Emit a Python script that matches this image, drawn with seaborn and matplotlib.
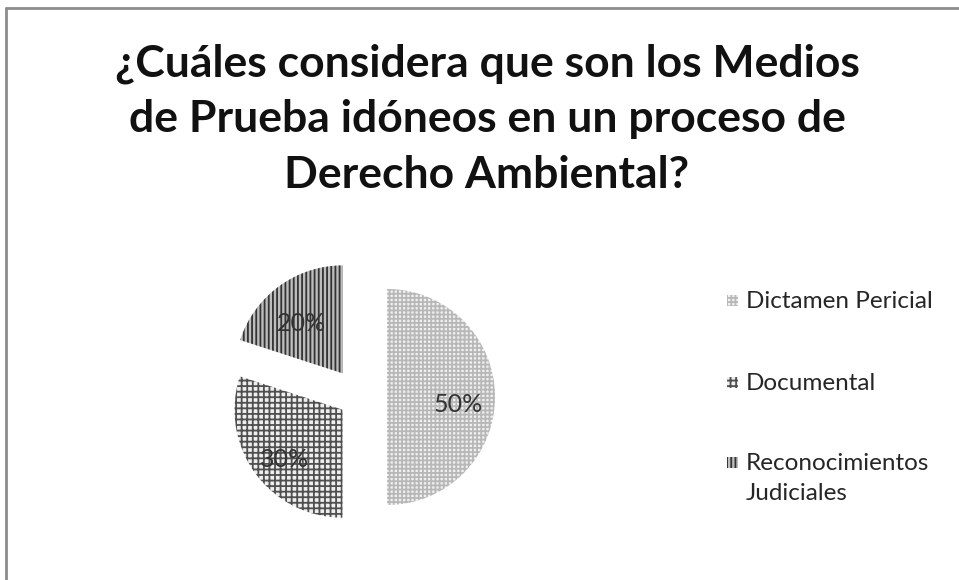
import matplotlib
matplotlib.use("Agg")
import matplotlib.pyplot as plt
import seaborn as sns
from matplotlib.patches import Rectangle
from matplotlib.lines import Line2D

sns.set_theme(style="white")
plt.rcParams['font.family'] = ['Lato', 'DejaVu Sans']
plt.rcParams['hatch.linewidth'] = 1.3

# ---- data ----
categories = ["Dictamen Pericial", "Documental", "Reconocimientos\nJudiciales"]
values = [50, 30, 20]
title_lines = ["¿Cuáles considera que son los Medios",
               "de Prueba idóneos en un proceso de",
               "Derecho Ambiental?"]

# ---- styles ----
face_colors = ["#f0f0f0", "#eeeeee", "#bdbdbd"]
hatch_colors = ["#b8b8b8", "#505050", "#333333"]
hatches = ["++++", "+++", "||||"]
explode = [0.25, 0.20, 0.27]

W, H = 959, 580
fig = plt.figure(figsize=(W / 100, H / 100), dpi=100)
fig.patch.set_facecolor("white")

# frame lines (top & left)
fig.add_artist(Line2D([6 / W, 1], [1 - 8 / H, 1 - 8 / H], color="#8c8c8c", lw=2, transform=fig.transFigure))
fig.add_artist(Line2D([6 / W, 6 / W], [0, 1 - 8 / H], color="#8c8c8c", lw=2, transform=fig.transFigure))

# pie axes: center (360, 397) px, radius 108 px
cx, cy, r = 360, 397, 108
box = 320
ax = fig.add_axes([(cx - box / 2) / W, (H - cy - box / 2) / H, box / W, box / H])

wedges, texts, autotexts = ax.pie(
    values, startangle=90, counterclock=False, explode=explode, radius=1,
    autopct="%d%%", pctdistance=0.66,
    textprops=dict(fontsize=18, color="#333333"),
    wedgeprops=dict(linewidth=0),
)
lim = box / 2 / r
ax.set_xlim(-lim, lim)
ax.set_ylim(-lim, lim)
ax.set_aspect("equal")
ax.axis("off")
for w, fc, hc, h in zip(wedges, face_colors, hatch_colors, hatches):
    w.set_facecolor(fc)
    w.set_edgecolor(hc)
    w.set_hatch(h)
    w.set_linewidth(0)
for t in autotexts:
    x, y = t.get_position()
    t.set_position((x, y - 8 / r))

# title
title_base = [76, 132, 188]
for line, y in zip(title_lines, title_base):
    fig.text(487 / W, 1 - y / H, line, ha="center", va="baseline",
             fontsize=32, fontweight="bold", color="#111111")

# legend (manual)
leg_base = [308, 390, 470]
for lab, yb, fc, hc, h in zip(categories, leg_base, face_colors, hatch_colors, hatches):
    sq = 11
    yc = yb - 8
    p = Rectangle((727 / W, 1 - (yc + sq / 2) / H), sq / W, sq / H, transform=fig.transFigure,
                  facecolor=fc, edgecolor=hc, hatch=h, linewidth=0)
    fig.add_artist(p)
    for i, part in enumerate(lab.split("\n")):
        fig.text(746 / W, 1 - (yb + 30 * i) / H, part, ha="left", va="baseline",
                 fontsize=17.5, color="#262626")

fig.savefig("out.png", dpi=100)
